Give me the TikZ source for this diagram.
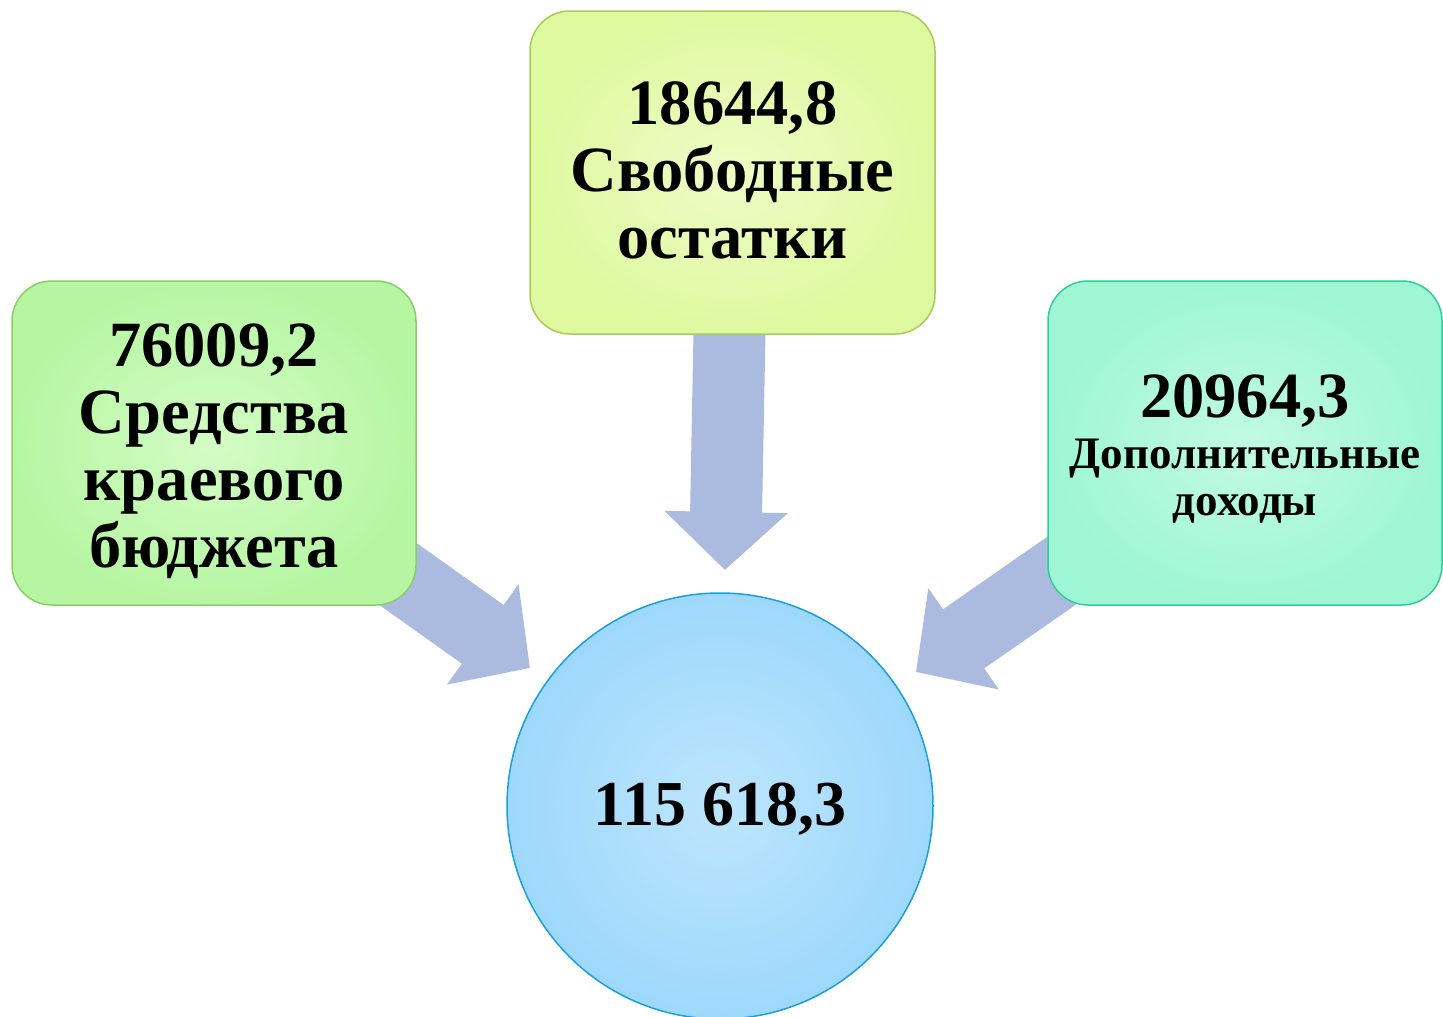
\documentclass[tikz,border=0pt]{standalone}
\usepackage{fontspec}
\setmainfont{Liberation Serif}
\usetikzlibrary{arrows.meta,backgrounds}
\definecolor{arrowc}{HTML}{ABBADF}
\definecolor{lgIn}{HTML}{D4FCC6}
\definecolor{lgOut}{HTML}{B6F6A2}
\definecolor{lgLine}{HTML}{8ACF66}
\definecolor{ygIn}{HTML}{EEFCC6}
\definecolor{ygOut}{HTML}{DEF9A0}
\definecolor{ygLine}{HTML}{AACC55}
\definecolor{mtIn}{HTML}{C2FAE4}
\definecolor{mtOut}{HTML}{9EF6D4}
\definecolor{mtLine}{HTML}{33CC99}
\definecolor{blIn}{HTML}{BDE5FD}
\definecolor{blOut}{HTML}{9DD8FB}
\definecolor{blLine}{HTML}{1A9FD9}
\newcommand{\smalltxt}{\fontsize{45}{50}\selectfont}
\begin{document}
\begin{tikzpicture}[x=1pt,y=-1pt,
  box/.style={rounded corners=40pt, line width=1.5pt, align=center, inner sep=0pt,
    font=\bfseries\fontsize{64.5}{67}\selectfont},
  flow/.style={draw=arrowc, line width=72pt, -{Triangle[width=120pt,length=58pt]}}]
\useasboundingbox (0,0) rectangle (1443,1017);

\node[box, draw=lgLine, inner color=lgIn, outer color=lgOut,
  minimum width=404pt, minimum height=324pt] (left) at (214,443)
  {\raisebox{-11pt}[\height][\depth]{\begin{tabular}{@{}c@{}}76009,2\\Средства\\краевого\\бюджета\end{tabular}}};
\node[box, draw=ygLine, inner color=ygIn, outer color=ygOut,
  minimum width=405pt, minimum height=323pt] (top) at (732.5,172.5)
  {\raisebox{-6pt}[\height][\depth]{\begin{tabular}{@{}c@{}}18644,8\\Свободные\\остатки\end{tabular}}};
\node[box, draw=mtLine, inner color=mtIn, outer color=mtOut,
  minimum width=394pt, minimum height=324pt] (right) at (1245,443)
  {\raisebox{-10pt}[\height][\depth]{\begin{tabular}{@{}c@{}}20964,3\\[-16pt]\smalltxt Дополнительные\\[-20pt]\smalltxt доходы\end{tabular}}};
\node[circle, draw=blLine, line width=1.5pt, inner color=blIn, outer color=blOut,
  minimum size=426pt, inner sep=0pt, font=\bfseries\fontsize{64}{67}\selectfont]
  (total) at (720,806) {\raisebox{-3pt}[\height][\depth]{115 618,3}};

\coordinate (tipL) at (530,668);
\coordinate (tipT) at (725,570);
\coordinate (tipR) at (916,672);

\begin{pgfonlayer}{background}
\draw[flow] (left.center) -- (tipL);
\draw[flow] (top.center) -- (tipT);
\draw[flow] (right.center) -- (tipR);
\end{pgfonlayer}
\end{tikzpicture}
\end{document}
